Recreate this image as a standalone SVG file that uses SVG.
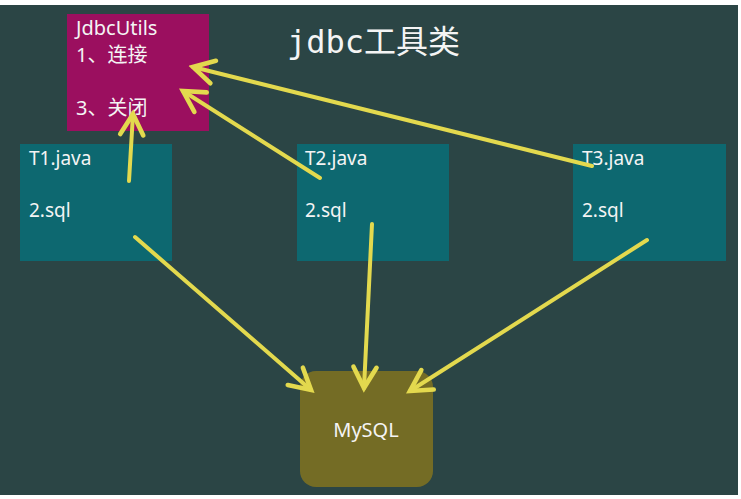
<svg xmlns="http://www.w3.org/2000/svg" width="741" height="499" viewBox="0 0 741 499">
<defs>
<marker id="ah" markerUnits="userSpaceOnUse" markerWidth="30" markerHeight="30" viewBox="-22 -13 26 26" refX="0" refY="0" orient="auto">
<path d="M-18,-10 L0,0 L-18,10" fill="none" stroke="#e3d94e" stroke-width="4" stroke-linecap="round" stroke-linejoin="miter"/>
</marker>
<style>
.lbl{font-family:"Noto Sans","Noto Sans CJK SC",sans-serif;font-size:19px;fill:#f4f4f4}
.big{font-size:20px}
.title{font-family:"DejaVu Sans Mono","Noto Sans CJK SC",monospace;font-size:32px;fill:#f4f4f4}
.conn line{stroke:#e3d94e;stroke-width:4;stroke-linecap:round;marker-end:url(#ah)}
</style>
</defs>
<rect x="0" y="0" width="741" height="499" fill="#ffffff"/>
<rect x="0" y="5" width="738" height="490" fill="#2b4545"/>
<text class="title" x="287" y="53">jdbc工具类</text>
<g id="jdbcutils">
<rect x="67" y="14" width="142" height="117" fill="#9b0f5f"/>
<text class="lbl big" x="76" y="35">JdbcUtils</text>
<text class="lbl big" x="76" y="62">1、连接</text>
<text class="lbl big" x="76" y="115">3、关闭</text>
</g>
<g id="t1">
<rect x="20" y="144" width="152" height="117" fill="#0d6870"/>
<text class="lbl" x="29" y="165">T1.java</text>
<text class="lbl" x="29" y="217">2.sql</text>
</g>
<g id="t2">
<rect x="297" y="144" width="152" height="117" fill="#0d6870"/>
<text class="lbl" x="305" y="165">T2.java</text>
<text class="lbl" x="305" y="217">2.sql</text>
</g>
<g id="t3">
<rect x="573" y="144" width="153" height="117" fill="#0d6870"/>
<text class="lbl" x="582" y="165">T3.java</text>
<text class="lbl" x="582" y="217">2.sql</text>
</g>
<g id="mysql">
<rect x="300" y="371" width="133" height="116" rx="16" ry="16" fill="#746c25"/>
<text class="lbl" x="366" y="437" text-anchor="middle" style="font-size:20px">MySQL</text>
</g>
<g class="conn" id="connectors">
<line x1="129" y1="181" x2="133" y2="114"/>
<line x1="320" y1="178" x2="183" y2="91"/>
<line x1="592" y1="166" x2="193" y2="67"/>
<line x1="135" y1="237" x2="311" y2="390"/>
<line x1="372" y1="224" x2="364" y2="388"/>
<line x1="647" y1="240" x2="410" y2="391"/>
</g>
</svg>
